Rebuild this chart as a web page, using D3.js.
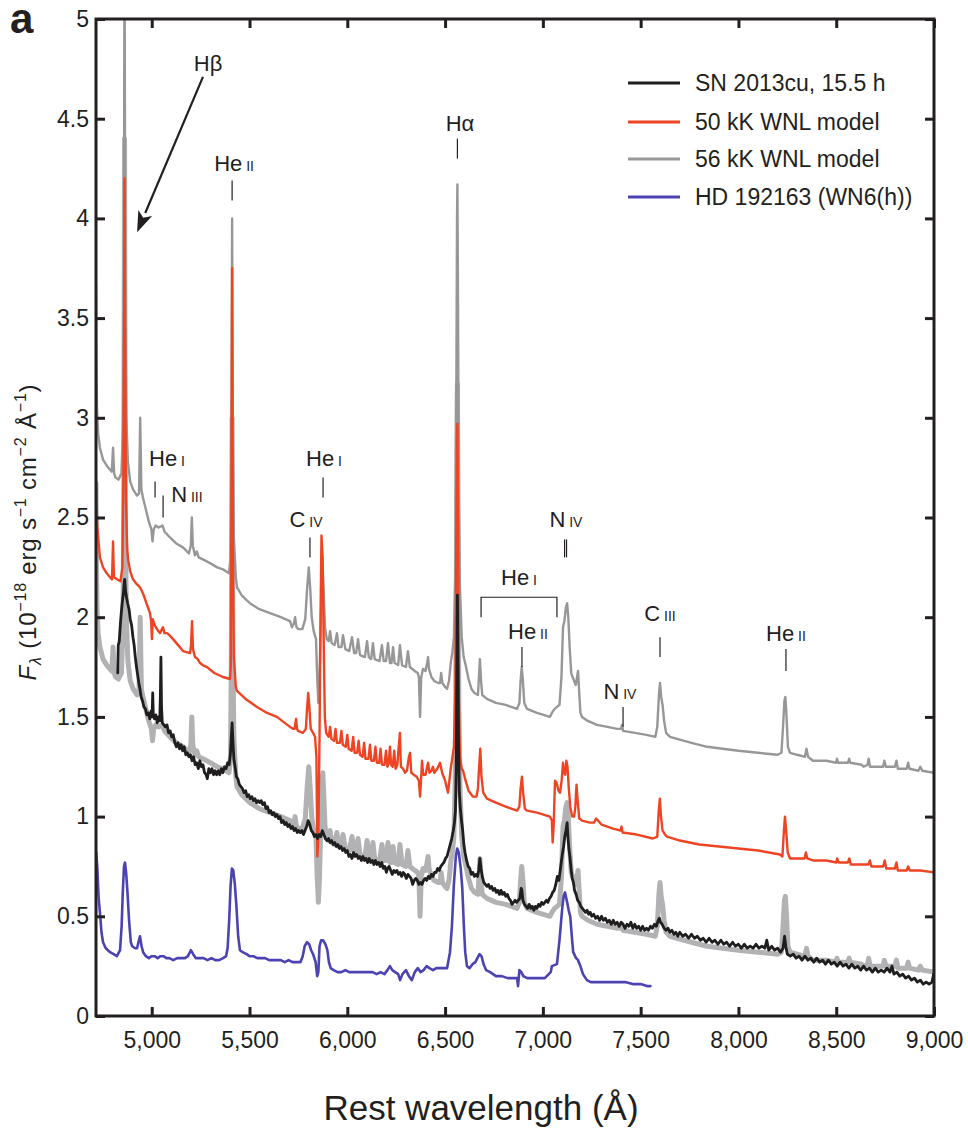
<!DOCTYPE html>
<html>
<head>
<meta charset="utf-8">
<script src="https://cdn.jsdelivr.net/npm/d3@7"></script>
<style>
  html, body { margin: 0; padding: 0; background: #fff; }
  svg { display: block; }
</style>
</head>
<body>
<svg id="chart" width="968" height="1133"></svg>
<script>
// ---- Axis ticks -------------------------------------------------------
const xTicks = [5000, 5500, 6000, 6500, 7000, 7500, 8000, 8500, 9000];
const xTickLabels = ["5,000", "5,500", "6,000", "6,500", "7,000", "7,500", "8,000", "8,500", "9,000"];
const yTicks = [0, 0.5, 1, 1.5, 2, 2.5, 3, 3.5, 4, 4.5, 5];
const yTickLabels = ["0", "0.5", "1", "1.5", "2", "2.5", "3", "3.5", "4", "4.5", "5"];

// ---- Spectra: [rest wavelength (Å), F_λ (1e-18 erg s-1 cm-2 Å-1)] -------
// SN 2013cu, 15.5 h
const sn2013cu = [
  [4826,1.72],[4829,1.86],[4834,1.88],[4840,1.97],[4845,2.03],[4850,2.08],[4855,2.12],[4859,2.17],[4862,2.19],[4866,2.13],
  [4871,2.10],[4877,2.07],[4884,2.04],[4890,1.99],[4897,1.96],[4904,1.90],[4910,1.86],[4916,1.80],[4922,1.75],[4928,1.71],
  [4934,1.67],[4940,1.64],[4946,1.60],[4953,1.58],[4960,1.55],[4968,1.54],[4975,1.51],[4983,1.52],[4990,1.49],[4997,1.53],
  [5002,1.50],[5005,1.62],[5008,1.51],[5014,1.49],[5021,1.51],[5028,1.47],[5035,1.50],[5041,1.48],[5044,1.60],[5047,1.80],
  [5050,1.55],[5054,1.47],[5062,1.46],[5070,1.45],[5078,1.46],[5086,1.42],[5094,1.43],[5102,1.40],[5110,1.41],[5118,1.37],
  [5126,1.35],[5134,1.37],[5142,1.34],[5150,1.36],[5158,1.33],[5166,1.35],[5174,1.31],[5182,1.32],[5190,1.30],[5198,1.31],
  [5206,1.28],[5214,1.30],[5222,1.26],[5230,1.27],[5238,1.24],[5246,1.28],[5254,1.25],[5262,1.26],[5270,1.22],[5278,1.21],
  [5284,1.19],[5292,1.24],[5300,1.22],[5308,1.24],[5316,1.21],[5324,1.23],[5332,1.21],[5340,1.23],[5348,1.21],[5356,1.24],
  [5364,1.22],[5372,1.25],[5380,1.24],[5388,1.27],[5396,1.26],[5402,1.31],[5407,1.40],[5411,1.47],[5415,1.38],[5420,1.29],
  [5426,1.25],[5433,1.20],[5440,1.19],[5448,1.16],[5456,1.15],[5464,1.14],[5472,1.12],[5480,1.13],[5488,1.10],[5496,1.11],
  [5504,1.09],[5512,1.10],[5520,1.08],[5528,1.09],[5536,1.07],[5544,1.08],[5552,1.07],[5560,1.08],[5568,1.06],[5576,1.07],
  [5584,1.04],[5592,1.05],[5600,1.02],[5608,1.03],[5616,1.01],[5624,1.02],[5632,1.00],[5640,1.01],[5648,0.99],[5656,1.00],
  [5664,0.97],[5672,0.98],[5680,0.96],[5688,0.97],[5696,0.95],[5704,0.96],[5712,0.94],[5720,0.95],[5728,0.93],[5736,0.94],
  [5744,0.92],[5752,0.93],[5760,0.92],[5768,0.93],[5776,0.91],[5784,0.93],[5792,0.95],[5800,0.98],[5808,0.96],[5816,0.93],
  [5824,0.92],[5832,0.90],[5840,0.91],[5848,0.89],[5856,0.91],[5864,0.90],[5872,0.93],[5880,0.91],[5888,0.89],[5896,0.88],
  [5904,0.89],[5912,0.87],[5920,0.88],[5928,0.86],[5936,0.87],[5944,0.85],[5952,0.86],[5960,0.84],[5968,0.85],[5976,0.83],
  [5984,0.84],[5992,0.82],[6000,0.83],[6008,0.80],[6016,0.81],[6024,0.79],[6032,0.82],[6040,0.80],[6048,0.81],[6056,0.79],
  [6064,0.80],[6072,0.78],[6080,0.80],[6088,0.78],[6096,0.79],[6104,0.77],[6112,0.79],[6120,0.77],[6128,0.78],[6136,0.76],
  [6144,0.78],[6152,0.76],[6160,0.77],[6168,0.75],[6176,0.77],[6184,0.74],[6192,0.75],[6200,0.72],[6206,0.74],[6214,0.75],
  [6222,0.73],[6230,0.71],[6238,0.73],[6246,0.72],[6254,0.73],[6262,0.71],[6270,0.72],[6278,0.70],[6286,0.72],[6294,0.71],
  [6302,0.69],[6310,0.71],[6318,0.70],[6326,0.69],[6334,0.66],[6342,0.68],[6350,0.69],[6358,0.68],[6366,0.66],[6374,0.67],
  [6382,0.66],[6390,0.68],[6398,0.69],[6406,0.68],[6414,0.70],[6422,0.69],[6430,0.71],[6438,0.70],[6446,0.72],[6454,0.72],
  [6462,0.74],[6470,0.73],[6478,0.75],[6486,0.76],[6494,0.77],[6502,0.79],[6510,0.80],[6518,0.83],[6526,0.86],[6534,0.89],
  [6542,0.93],[6548,0.97],[6553,1.03],[6557,1.25],[6560,1.70],[6563,2.11],[6566,1.75],[6569,1.35],[6573,1.12],[6578,1.04],
  [6584,0.98],[6590,0.93],[6596,0.86],[6602,0.82],[6610,0.78],[6618,0.75],[6626,0.74],[6634,0.71],[6642,0.72],[6650,0.70],
  [6658,0.71],[6666,0.70],[6672,0.73],[6678,0.79],[6684,0.74],[6690,0.70],[6698,0.67],[6706,0.66],[6714,0.65],[6722,0.66],
  [6730,0.64],[6738,0.65],[6746,0.63],[6754,0.64],[6762,0.62],[6770,0.63],[6778,0.61],[6786,0.63],[6794,0.61],[6802,0.62],
  [6810,0.60],[6818,0.61],[6826,0.59],[6834,0.58],[6842,0.56],[6850,0.57],[6858,0.58],[6866,0.57],[6874,0.58],[6882,0.59],
  [6889,0.64],[6893,0.63],[6898,0.58],[6906,0.56],[6914,0.55],[6922,0.54],[6930,0.56],[6938,0.54],[6946,0.55],[6954,0.53],
  [6962,0.55],[6970,0.54],[6978,0.56],[6986,0.55],[6994,0.57],[7002,0.56],[7010,0.57],[7018,0.58],[7026,0.57],[7034,0.59],
  [7042,0.60],[7050,0.62],[7058,0.63],[7066,0.66],[7074,0.70],[7082,0.68],[7090,0.74],[7098,0.80],[7106,0.85],[7112,0.90],
  [7118,0.93],[7124,0.97],[7128,0.90],[7133,0.84],[7138,0.80],[7144,0.74],[7150,0.69],[7156,0.67],[7162,0.63],[7170,0.61],
  [7178,0.58],[7186,0.57],[7194,0.55],[7202,0.54],[7210,0.53],[7218,0.52],[7226,0.53],[7234,0.51],[7242,0.52],[7250,0.50],
  [7260,0.51],[7270,0.49],[7280,0.50],[7290,0.48],[7300,0.50],[7310,0.48],[7320,0.49],[7330,0.47],[7340,0.48],[7350,0.46],
  [7360,0.48],[7370,0.46],[7380,0.47],[7390,0.45],[7400,0.47],[7410,0.46],[7420,0.44],[7430,0.46],[7440,0.45],[7450,0.47],
  [7460,0.44],[7470,0.46],[7480,0.44],[7490,0.45],[7500,0.43],[7510,0.45],[7520,0.43],[7530,0.44],[7540,0.43],[7550,0.45],
  [7560,0.44],[7570,0.46],[7580,0.45],[7590,0.48],[7596,0.49],[7602,0.47],[7610,0.46],[7620,0.44],[7630,0.43],[7640,0.44],
  [7650,0.42],[7660,0.43],[7670,0.41],[7680,0.42],[7690,0.40],[7700,0.42],[7715,0.40],[7730,0.41],[7745,0.39],[7760,0.41],
  [7775,0.39],[7790,0.40],[7805,0.38],[7820,0.39],[7835,0.37],[7850,0.39],[7865,0.37],[7880,0.38],[7895,0.36],[7910,0.38],
  [7925,0.36],[7940,0.37],[7955,0.35],[7970,0.37],[7985,0.35],[8000,0.36],[8015,0.34],[8030,0.36],[8045,0.34],[8060,0.35],
  [8075,0.34],[8090,0.36],[8105,0.34],[8120,0.35],[8135,0.34],[8145,0.38],[8155,0.33],[8170,0.35],[8185,0.33],[8200,0.34],
  [8215,0.32],[8228,0.34],[8236,0.40],[8242,0.35],[8250,0.31],[8265,0.30],[8280,0.31],[8295,0.29],[8310,0.30],[8325,0.28],
  [8340,0.30],[8355,0.28],[8370,0.29],[8385,0.27],[8400,0.29],[8415,0.27],[8430,0.28],[8445,0.26],[8460,0.28],[8475,0.26],
  [8490,0.27],[8505,0.25],[8520,0.27],[8535,0.25],[8550,0.26],[8565,0.24],[8580,0.26],[8595,0.24],[8610,0.25],[8625,0.23],
  [8640,0.25],[8655,0.23],[8670,0.24],[8685,0.22],[8700,0.24],[8715,0.22],[8730,0.23],[8745,0.22],[8760,0.24],[8775,0.22],
  [8785,0.25],[8795,0.21],[8810,0.22],[8825,0.20],[8840,0.21],[8855,0.19],[8870,0.20],[8885,0.18],[8900,0.19],[8915,0.17],
  [8930,0.18],[8945,0.16],[8960,0.17],[8975,0.16],[8990,0.17],[8998,0.21]
];

// 50 kK WNL model (plotted with its own vertical offset)
const wnl50 = [
  [4715,2.69],[4718,2.55],[4722,2.45],[4735,2.30],[4751,2.25],[4770,2.22],[4787,2.20],[4797,2.19],[4802,2.38],[4807,2.20],
  [4822,2.19],[4840,2.18],[4850,2.25],[4855,2.70],[4859,3.60],[4861,4.20],[4864,3.40],[4868,2.60],[4874,2.35],[4879,2.29],
  [4890,2.23],[4904,2.19],[4920,2.17],[4940,2.15],[4955,2.12],[4966,2.09],[4980,2.05],[4991,2.02],[4997,1.98],[5001,1.89],
  [5005,1.99],[5015,1.96],[5027,1.94],[5042,1.92],[5052,1.94],[5058,1.95],[5065,1.92],[5078,1.92],[5090,1.91],[5109,1.89],
  [5135,1.86],[5160,1.83],[5196,1.82],[5201,1.86],[5206,1.98],[5211,1.84],[5221,1.80],[5235,1.79],[5247,1.77],[5260,1.76],
  [5283,1.75],[5320,1.72],[5364,1.70],[5400,1.69],[5404,1.75],[5407,2.40],[5411,3.75],[5415,2.30],[5420,1.80],[5430,1.65],
  [5436,1.63],[5480,1.59],[5538,1.55],[5590,1.52],[5640,1.50],[5680,1.47],[5707,1.45],[5722,1.44],[5730,1.44],[5738,1.49],
  [5743,1.44],[5748,1.43],[5773,1.42],[5788,1.44],[5795,1.55],[5800,1.62],[5806,1.55],[5813,1.44],[5825,1.42],[5835,1.40],
  [5842,1.30],[5847,0.80],[5852,0.90],[5858,1.40],[5863,2.00],[5868,2.41],[5874,2.30],[5879,1.90],[5885,1.50],[5892,1.42],
  [5898,1.41],[5905,1.40],[5912,1.45],[5919,1.39],[5932,1.38],[5940,1.44],[5947,1.37],[5962,1.37],[5970,1.43],[5977,1.36],
  [5992,1.35],[6000,1.41],[6007,1.34],[6022,1.33],[6030,1.40],[6037,1.32],[6050,1.32],[6058,1.38],[6065,1.31],[6078,1.30],
  [6086,1.37],[6093,1.29],[6108,1.29],[6116,1.36],[6123,1.28],[6136,1.28],[6144,1.35],[6151,1.27],[6163,1.27],[6170,1.34],
  [6177,1.26],[6190,1.26],[6198,1.33],[6205,1.25],[6212,1.27],[6218,1.35],[6224,1.26],[6232,1.25],[6240,1.33],[6247,1.24],
  [6256,1.26],[6262,1.34],[6269,1.42],[6274,1.25],[6285,1.24],[6295,1.22],[6305,1.23],[6315,1.30],[6321,1.32],[6327,1.22],
  [6340,1.21],[6355,1.20],[6366,1.18],[6372,1.10],[6378,1.20],[6382,1.28],[6388,1.21],[6400,1.21],[6408,1.25],[6413,1.27],
  [6420,1.22],[6430,1.23],[6438,1.25],[6445,1.22],[6460,1.24],[6474,1.27],[6485,1.22],[6500,1.18],[6510,1.14],[6515,1.12],
  [6522,1.18],[6530,1.25],[6535,1.28],[6545,1.35],[6552,1.60],[6557,2.30],[6561,2.90],[6563,2.97],[6566,2.50],[6570,1.60],
  [6576,1.30],[6585,1.24],[6592,1.23],[6605,1.18],[6620,1.13],[6635,1.11],[6643,1.10],[6660,1.10],[6668,1.14],[6674,1.25],
  [6680,1.34],[6686,1.20],[6695,1.12],[6714,1.09],[6760,1.07],[6810,1.05],[6868,1.03],[6880,1.05],[6886,1.14],[6893,1.20],
  [6899,1.12],[6908,1.04],[6919,1.03],[6970,1.02],[7036,1.00],[7046,0.98],[7050,0.87],[7055,0.95],[7062,1.18],[7070,1.17],
  [7080,1.13],[7088,1.12],[7096,1.18],[7103,1.27],[7108,1.22],[7114,1.21],[7120,1.28],[7126,1.25],[7132,1.15],[7140,1.05],
  [7150,1.00],[7160,1.00],[7166,1.05],[7172,1.16],[7178,1.08],[7186,0.99],[7200,0.98],[7240,0.97],[7262,0.97],[7272,0.99],
  [7282,0.98],[7300,0.96],[7359,0.94],[7398,0.93],[7402,0.95],[7408,0.92],[7480,0.91],[7563,0.89],[7585,0.90],[7592,1.02],
  [7598,1.09],[7604,1.00],[7612,0.93],[7625,0.91],[7635,0.90],[7700,0.88],[7800,0.86],[7900,0.85],[8000,0.84],[8100,0.83],
  [8212,0.81],[8225,0.80],[8232,0.92],[8238,1.00],[8244,0.93],[8252,0.82],[8264,0.79],[8300,0.79],[8338,0.79],[8345,0.82],
  [8352,0.79],[8381,0.78],[8450,0.78],[8500,0.77],[8505,0.79],[8512,0.77],[8560,0.77],[8567,0.79],[8574,0.76],[8620,0.76],
  [8665,0.76],[8672,0.78],[8680,0.75],[8740,0.75],[8748,0.78],[8756,0.74],[8800,0.74],[8808,0.77],[8815,0.73],[8860,0.73],
  [8868,0.75],[8876,0.73],[8930,0.73],[9000,0.72]
];

// 56 kK WNL model (drawn twice: as-is under the SN spectrum, and shifted up)
const wnl56 = [
  [4715,2.67],[4717,2.30],[4720,2.05],[4726,1.92],[4735,1.85],[4751,1.79],[4770,1.76],[4787,1.74],[4796,1.73],[4802,1.85],
  [4808,1.72],[4815,1.70],[4830,1.69],[4845,1.72],[4853,1.95],[4857,2.60],[4861,4.40],[4865,2.60],[4870,2.00],[4878,1.78],
  [4890,1.68],[4905,1.64],[4925,1.61],[4935,1.62],[4941,2.00],[4947,1.64],[4955,1.60],[4970,1.54],[4985,1.48],[4998,1.44],
  [5004,1.38],[5010,1.44],[5020,1.46],[5035,1.45],[5055,1.46],[5065,1.43],[5093,1.40],[5125,1.37],[5160,1.35],[5190,1.32],
  [5200,1.36],[5205,1.50],[5210,1.36],[5221,1.31],[5230,1.33],[5240,1.30],[5262,1.29],[5300,1.27],[5335,1.25],[5364,1.24],
  [5395,1.22],[5403,1.30],[5407,1.80],[5411,3.00],[5415,1.80],[5420,1.40],[5430,1.20],[5436,1.15],[5460,1.11],[5502,1.07],
  [5550,1.04],[5605,1.02],[5660,1.00],[5707,0.98],[5717,0.95],[5727,0.97],[5733,1.00],[5740,0.95],[5750,0.94],[5770,0.94],
  [5785,0.99],[5795,1.15],[5803,1.25],[5810,1.15],[5818,1.00],[5828,0.93],[5840,0.89],[5846,0.70],[5852,0.57],[5858,0.70],
  [5864,0.95],[5870,1.18],[5875,1.22],[5880,1.10],[5886,0.95],[5895,0.89],[5905,0.88],[5912,0.93],[5920,0.87],[5935,0.86],
  [5947,0.92],[5955,0.85],[5970,0.85],[5978,0.91],[5990,0.84],[6010,0.83],[6024,0.90],[6035,0.82],[6045,0.82],[6055,0.89],
  [6065,0.81],[6090,0.80],[6101,0.88],[6110,0.80],[6122,0.79],[6131,0.87],[6140,0.79],[6165,0.78],[6177,0.86],[6186,0.78],
  [6198,0.78],[6208,0.87],[6218,0.77],[6226,0.77],[6234,0.85],[6242,0.77],[6260,0.76],[6269,0.86],[6280,0.76],[6300,0.75],
  [6310,0.83],[6320,0.75],[6345,0.73],[6360,0.72],[6366,0.70],[6372,0.50],[6378,0.70],[6387,0.74],[6400,0.73],[6408,0.77],
  [6413,0.80],[6418,0.74],[6430,0.70],[6445,0.68],[6465,0.67],[6474,0.67],[6480,0.72],[6486,0.67],[6500,0.65],[6510,0.64],
  [6520,0.68],[6530,0.78],[6537,0.82],[6545,0.90],[6552,1.20],[6557,2.00],[6561,3.00],[6563,3.17],[6566,2.60],[6570,1.60],
  [6576,1.15],[6585,0.90],[6595,0.80],[6605,0.76],[6620,0.69],[6635,0.64],[6650,0.62],[6668,0.61],[6672,0.68],[6678,0.79],
  [6684,0.68],[6690,0.61],[6714,0.59],[6760,0.57],[6810,0.56],[6868,0.54],[6880,0.57],[6886,0.68],[6892,0.75],[6898,0.68],
  [6905,0.57],[6919,0.54],[6970,0.52],[7036,0.50],[7046,0.52],[7060,0.54],[7085,0.56],[7095,0.70],[7103,0.95],[7110,0.98],
  [7118,1.05],[7124,1.07],[7130,1.00],[7137,0.85],[7145,0.72],[7152,0.70],[7160,0.68],[7168,0.66],[7175,0.70],[7180,0.73],
  [7186,0.62],[7192,0.52],[7200,0.50],[7230,0.48],[7277,0.46],[7330,0.45],[7380,0.44],[7400,0.44],[7405,0.46],[7410,0.43],
  [7470,0.42],[7530,0.41],[7575,0.40],[7585,0.45],[7594,0.62],[7599,0.67],[7605,0.60],[7612,0.56],[7620,0.48],[7630,0.42],
  [7650,0.40],[7686,0.39],[7760,0.37],[7840,0.35],[7920,0.34],[8000,0.33],[8100,0.32],[8200,0.31],[8220,0.32],[8228,0.45],
  [8235,0.58],[8240,0.60],[8246,0.50],[8253,0.35],[8264,0.32],[8300,0.31],[8340,0.30],[8348,0.34],[8356,0.30],[8381,0.28],
  [8450,0.28],[8500,0.27],[8504,0.29],[8510,0.27],[8560,0.27],[8566,0.29],[8572,0.27],[8630,0.26],[8640,0.25],[8660,0.26],
  [8666,0.29],[8673,0.25],[8700,0.25],[8740,0.25],[8746,0.28],[8754,0.25],[8800,0.25],[8808,0.28],[8815,0.24],[8860,0.24],
  [8868,0.27],[8875,0.24],[8920,0.23],[8930,0.25],[8940,0.23],[9000,0.22]
];
const wnl56Shift = 1.0;

// HD 192163 (WN6(h))
const hd192163 = [
  [4716,0.82],[4722,0.74],[4728,0.60],[4735,0.52],[4743,0.42],[4751,0.37],[4765,0.34],[4787,0.32],[4805,0.31],[4822,0.30],
  [4838,0.33],[4846,0.45],[4852,0.62],[4858,0.75],[4863,0.77],[4869,0.72],[4876,0.62],[4884,0.48],[4893,0.37],[4900,0.35],
  [4915,0.34],[4925,0.34],[4932,0.37],[4940,0.40],[4948,0.35],[4956,0.32],[4970,0.30],[4985,0.29],[5000,0.30],[5015,0.30],
  [5030,0.29],[5045,0.30],[5060,0.30],[5075,0.29],[5090,0.29],[5110,0.28],[5130,0.29],[5150,0.29],[5170,0.29],[5185,0.30],
  [5200,0.33],[5212,0.31],[5225,0.29],[5245,0.29],[5265,0.29],[5285,0.28],[5305,0.29],[5325,0.28],[5345,0.28],[5365,0.29],
  [5380,0.30],[5388,0.34],[5396,0.48],[5403,0.65],[5410,0.74],[5417,0.73],[5425,0.66],[5433,0.55],[5442,0.40],[5451,0.33],
  [5465,0.32],[5485,0.31],[5500,0.30],[5520,0.30],[5540,0.29],[5560,0.29],[5580,0.29],[5600,0.28],[5620,0.28],[5640,0.28],
  [5660,0.28],[5680,0.27],[5700,0.28],[5720,0.27],[5740,0.27],[5760,0.27],[5772,0.30],[5782,0.35],[5794,0.37],[5805,0.36],
  [5815,0.33],[5825,0.31],[5838,0.27],[5846,0.20],[5852,0.22],[5858,0.35],[5866,0.38],[5876,0.38],[5888,0.36],[5898,0.33],
  [5906,0.27],[5915,0.24],[5930,0.23],[5950,0.22],[5970,0.22],[5990,0.23],[6010,0.22],[6030,0.22],[6050,0.22],[6070,0.22],
  [6090,0.22],[6110,0.22],[6130,0.22],[6150,0.21],[6170,0.22],[6190,0.21],[6205,0.23],[6218,0.25],[6230,0.23],[6245,0.22],
  [6260,0.21],[6270,0.18],[6282,0.21],[6300,0.23],[6315,0.20],[6330,0.18],[6345,0.22],[6360,0.24],[6375,0.22],[6390,0.23],
  [6405,0.25],[6420,0.24],[6438,0.23],[6455,0.24],[6490,0.24],[6510,0.24],[6525,0.32],[6535,0.45],[6545,0.66],[6555,0.80],
  [6562,0.84],[6570,0.82],[6580,0.74],[6588,0.64],[6596,0.45],[6603,0.32],[6612,0.25],[6625,0.24],[6640,0.26],[6655,0.27],
  [6665,0.29],[6676,0.31],[6686,0.30],[6697,0.26],[6710,0.23],[6730,0.22],[6760,0.20],[6790,0.20],[6820,0.19],[6850,0.19],
  [6868,0.19],[6873,0.15],[6880,0.23],[6890,0.22],[6900,0.20],[6920,0.19],[6950,0.19],[6980,0.19],[7010,0.19],[7040,0.22],
  [7046,0.25],[7072,0.26],[7085,0.38],[7098,0.53],[7106,0.60],[7113,0.62],[7122,0.58],[7132,0.53],[7140,0.50],[7148,0.40],
  [7155,0.32],[7170,0.29],[7180,0.28],[7192,0.25],[7205,0.21],[7225,0.18],[7245,0.17],[7300,0.17],[7340,0.17],[7380,0.17],
  [7420,0.17],[7460,0.16],[7500,0.16],[7532,0.15],[7550,0.15]
];

// ---- Line identifications --------------------------------------------
const lineLabels = [
  { main: "Hβ", ion: "",    lam: 5288, flux: 4.74 },
  { main: "He", ion: "II",  lam: 5421, flux: 4.24 },
  { main: "Hα", ion: "",    lam: 6576, flux: 4.44 },
  { main: "He", ion: "I",   lam: 5078, flux: 2.76 },
  { main: "N",  ion: "III", lam: 5180, flux: 2.58 },
  { main: "He", ion: "I",   lam: 5881, flux: 2.76 },
  { main: "C",  ion: "IV",  lam: 5789, flux: 2.45 },
  { main: "He", ion: "I",   lam: 6878, flux: 2.16 },
  { main: "He", ion: "II",  lam: 6924, flux: 1.89 },
  { main: "N",  ion: "IV",  lam: 7118, flux: 2.45 },
  { main: "N",  ion: "IV",  lam: 7394, flux: 1.59 },
  { main: "C",  ion: "III", lam: 7599, flux: 1.98 },
  { main: "He", ion: "II",  lam: 8243, flux: 1.88 }
];
const lineMarks = [
  { lam: 5411, top: 4.19, bottom: 4.09 },
  { lam: 6563, top: 4.40, bottom: 4.30 },
  { lam: 5017, top: 2.68, bottom: 2.60 },
  { lam: 5058, top: 2.61, bottom: 2.50 },
  { lam: 5876, top: 2.70, bottom: 2.60 },
  { lam: 5809, top: 2.40, bottom: 2.30 },
  { lam: 6893, top: 1.85, bottom: 1.75 },
  { lam: 7111, top: 2.39, bottom: 2.30 },
  { lam: 7121, top: 2.39, bottom: 2.30 },
  { lam: 7410, top: 1.55, bottom: 1.45 },
  { lam: 7599, top: 1.90, bottom: 1.80 },
  { lam: 8243, top: 1.84, bottom: 1.73 }
];
const heIBracket = { from: 6684, to: 7072, top: 2.10, bottom: 2.00 };
const hBetaArrow = { fromLam: 5262, fromFlux: 4.71, toLam: 4925, toFlux: 3.93 };

const legendItems = [
  { label: "SN 2013cu, 15.5 h",   color: "#1f1d1d" },
  { label: "50 kK WNL model",     color: "#ee4423" },
  { label: "56 kK WNL model",     color: "#979797" },
  { label: "HD 192163 (WN6(h))",  color: "#4c43b2" }
];

// ---- Layout ------------------------------------------------------------
const FONT = "'Liberation Sans', Arial, Helvetica, sans-serif";
const INK = "#231f20";
const svg = d3.select("#chart");
const plotL = 96, plotR = 934, plotT = 19, plotB = 1016;

const x = d3.scaleLinear().domain([4715, 9000]).range([plotL, plotR]);
const y = d3.scaleLinear().domain([0, 5]).range([plotB, plotT]);

svg.append("defs").append("clipPath").attr("id", "plot-clip")
  .append("rect").attr("x", plotL).attr("y", plotT)
  .attr("width", plotR - plotL).attr("height", plotB - plotT);

// ---- Spectra -----------------------------------------------------------
const spectrumLine = d3.line().x(d => x(d[0])).y(d => y(d[1]));
const plot = svg.append("g").attr("clip-path", "url(#plot-clip)");

function drawSpectrum(data, color, width, shift) {
  plot.append("path")
    .datum(data.map(d => [d[0], d[1] + shift]))
    .attr("d", spectrumLine)
    .attr("fill", "none")
    .attr("stroke", color)
    .attr("stroke-width", width)
    .attr("stroke-linejoin", "round")
    .attr("stroke-linecap", "round");
}

drawSpectrum(wnl56, "#b2b2b4", 5, 0);
drawSpectrum(hd192163, "#4c43b2", 2.6, 0);
drawSpectrum(wnl56, "#979797", 2.4, wnl56Shift);
drawSpectrum(wnl50, "#ee4423", 2.4, 0);
drawSpectrum(sn2013cu, "#1f1d1d", 2.8, 0);

// ---- Axes (ticks point inward on all four sides) -----------------------
function styleAxis(g) {
  g.select(".domain").remove();
  g.attr("font-family", FONT).attr("font-size", 23);
  g.selectAll(".tick line").attr("stroke", INK).attr("stroke-width", 3);
  g.selectAll(".tick text").attr("fill", INK);
}
svg.append("g").attr("transform", `translate(0,${plotB})`)
  .call(d3.axisBottom(x).tickValues(xTicks).tickFormat((d, i) => xTickLabels[i])
    .tickSizeInner(-9).tickSizeOuter(0).tickPadding(16))
  .call(styleAxis);
svg.append("g").attr("transform", `translate(0,${plotT})`)
  .call(d3.axisTop(x).tickValues(xTicks).tickFormat("").tickSizeInner(-9).tickSizeOuter(0))
  .call(styleAxis);
svg.append("g").attr("transform", `translate(${plotL},0)`)
  .call(d3.axisLeft(y).tickValues(yTicks).tickFormat((d, i) => yTickLabels[i])
    .tickSizeInner(-9).tickSizeOuter(0).tickPadding(7))
  .call(styleAxis);
svg.append("g").attr("transform", `translate(${plotR},0)`)
  .call(d3.axisRight(y).tickValues(yTicks).tickFormat("").tickSizeInner(-9).tickSizeOuter(0))
  .call(styleAxis);

svg.append("rect")
  .attr("x", plotL).attr("y", plotT).attr("width", plotR - plotL).attr("height", plotB - plotT)
  .attr("fill", "none").attr("stroke", INK).attr("stroke-width", 3);

// ---- Axis titles -------------------------------------------------------
svg.append("text")
  .attr("x", 481).attr("y", 1120)
  .attr("text-anchor", "middle")
  .attr("font-family", FONT).attr("font-size", 35).attr("fill", INK)
  .text("Rest wavelength (Å)");

const yTitle = svg.append("text")
  .attr("transform", "translate(36,532) rotate(-90)")
  .attr("text-anchor", "middle")
  .attr("font-family", FONT).attr("font-size", 24).attr("letter-spacing", 0.8)
  .attr("fill", INK);
const yParts = [
  { t: "F", italic: true },
  { t: "λ", italic: true, sub: true },
  { t: " (10" },
  { t: "−18", sup: true },
  { t: " erg s" },
  { t: "−1", sup: true },
  { t: " cm" },
  { t: "−2", sup: true },
  { t: " Å" },
  { t: "−1", sup: true },
  { t: ")" }
];
let shiftNow = 0;
yParts.forEach(p => {
  const target = p.sup ? -10 : p.sub ? 5 : 0;
  const ts = yTitle.append("tspan")
    .attr("dy", target - shiftNow)
    .text(p.t);
  shiftNow = target;
  if (p.italic) ts.attr("font-style", "italic");
  if (p.sup || p.sub) ts.attr("font-size", 16);
});

// Panel letter
svg.append("text")
  .attr("x", 10).attr("y", 33)
  .attr("font-family", FONT).attr("font-size", 42).attr("font-weight", "bold")
  .attr("fill", INK).text("a");

// ---- Line identifications ----------------------------------------------
const ann = svg.append("g").attr("font-family", FONT).attr("fill", INK);
lineLabels.forEach(l => {
  const t = ann.append("text")
    .attr("x", x(l.lam)).attr("y", y(l.flux))
    .attr("text-anchor", "middle").attr("font-size", 22);
  t.append("tspan").text(l.main);
  if (l.ion) t.append("tspan").attr("font-size", 14).text(" " + l.ion);
});
ann.selectAll("line.mark").data(lineMarks).join("line")
  .attr("class", "mark")
  .attr("x1", d => x(d.lam)).attr("x2", d => x(d.lam))
  .attr("y1", d => y(d.top)).attr("y2", d => y(d.bottom))
  .attr("stroke", INK).attr("stroke-width", 1.2);

ann.append("path")
  .attr("d", `M${x(heIBracket.from)},${y(heIBracket.bottom)}V${y(heIBracket.top)}` +
             `H${x(heIBracket.to)}V${y(heIBracket.bottom)}`)
  .attr("fill", "none").attr("stroke", INK).attr("stroke-width", 1.2);

// Arrow pointing at Hβ
{
  const x0 = x(hBetaArrow.fromLam), y0 = y(hBetaArrow.fromFlux);
  const x1 = x(hBetaArrow.toLam), y1 = y(hBetaArrow.toFlux);
  const ang = Math.atan2(y1 - y0, x1 - x0);
  const headLen = 21, headHalf = 7.5;
  const bx = x1 - headLen * Math.cos(ang), by = y1 - headLen * Math.sin(ang);
  ann.append("line")
    .attr("x1", x0).attr("y1", y0).attr("x2", bx).attr("y2", by)
    .attr("stroke", INK).attr("stroke-width", 2.2);
  const nx = -Math.sin(ang), ny = Math.cos(ang);
  ann.append("path")
    .attr("d", `M${x1},${y1}L${bx + nx * headHalf},${by + ny * headHalf}` +
               `L${bx + 0.25 * headLen * Math.cos(ang)},${by + 0.25 * headLen * Math.sin(ang)}` +
               `L${bx - nx * headHalf},${by - ny * headHalf}Z`)
    .attr("fill", INK);
}

// ---- Legend ----------------------------------------------------------------
const legend = svg.append("g").attr("font-family", FONT);
const legendRows = [83, 122, 159, 197];
legendItems.forEach((it, i) => {
  legend.append("line")
    .attr("x1", 628).attr("x2", 680)
    .attr("y1", legendRows[i]).attr("y2", legendRows[i])
    .attr("stroke", it.color).attr("stroke-width", 3);
  legend.append("text")
    .attr("x", 695).attr("y", legendRows[i] + 8)
    .attr("font-size", 23).attr("fill", INK)
    .text(it.label);
});
</script>
</body>
</html>
